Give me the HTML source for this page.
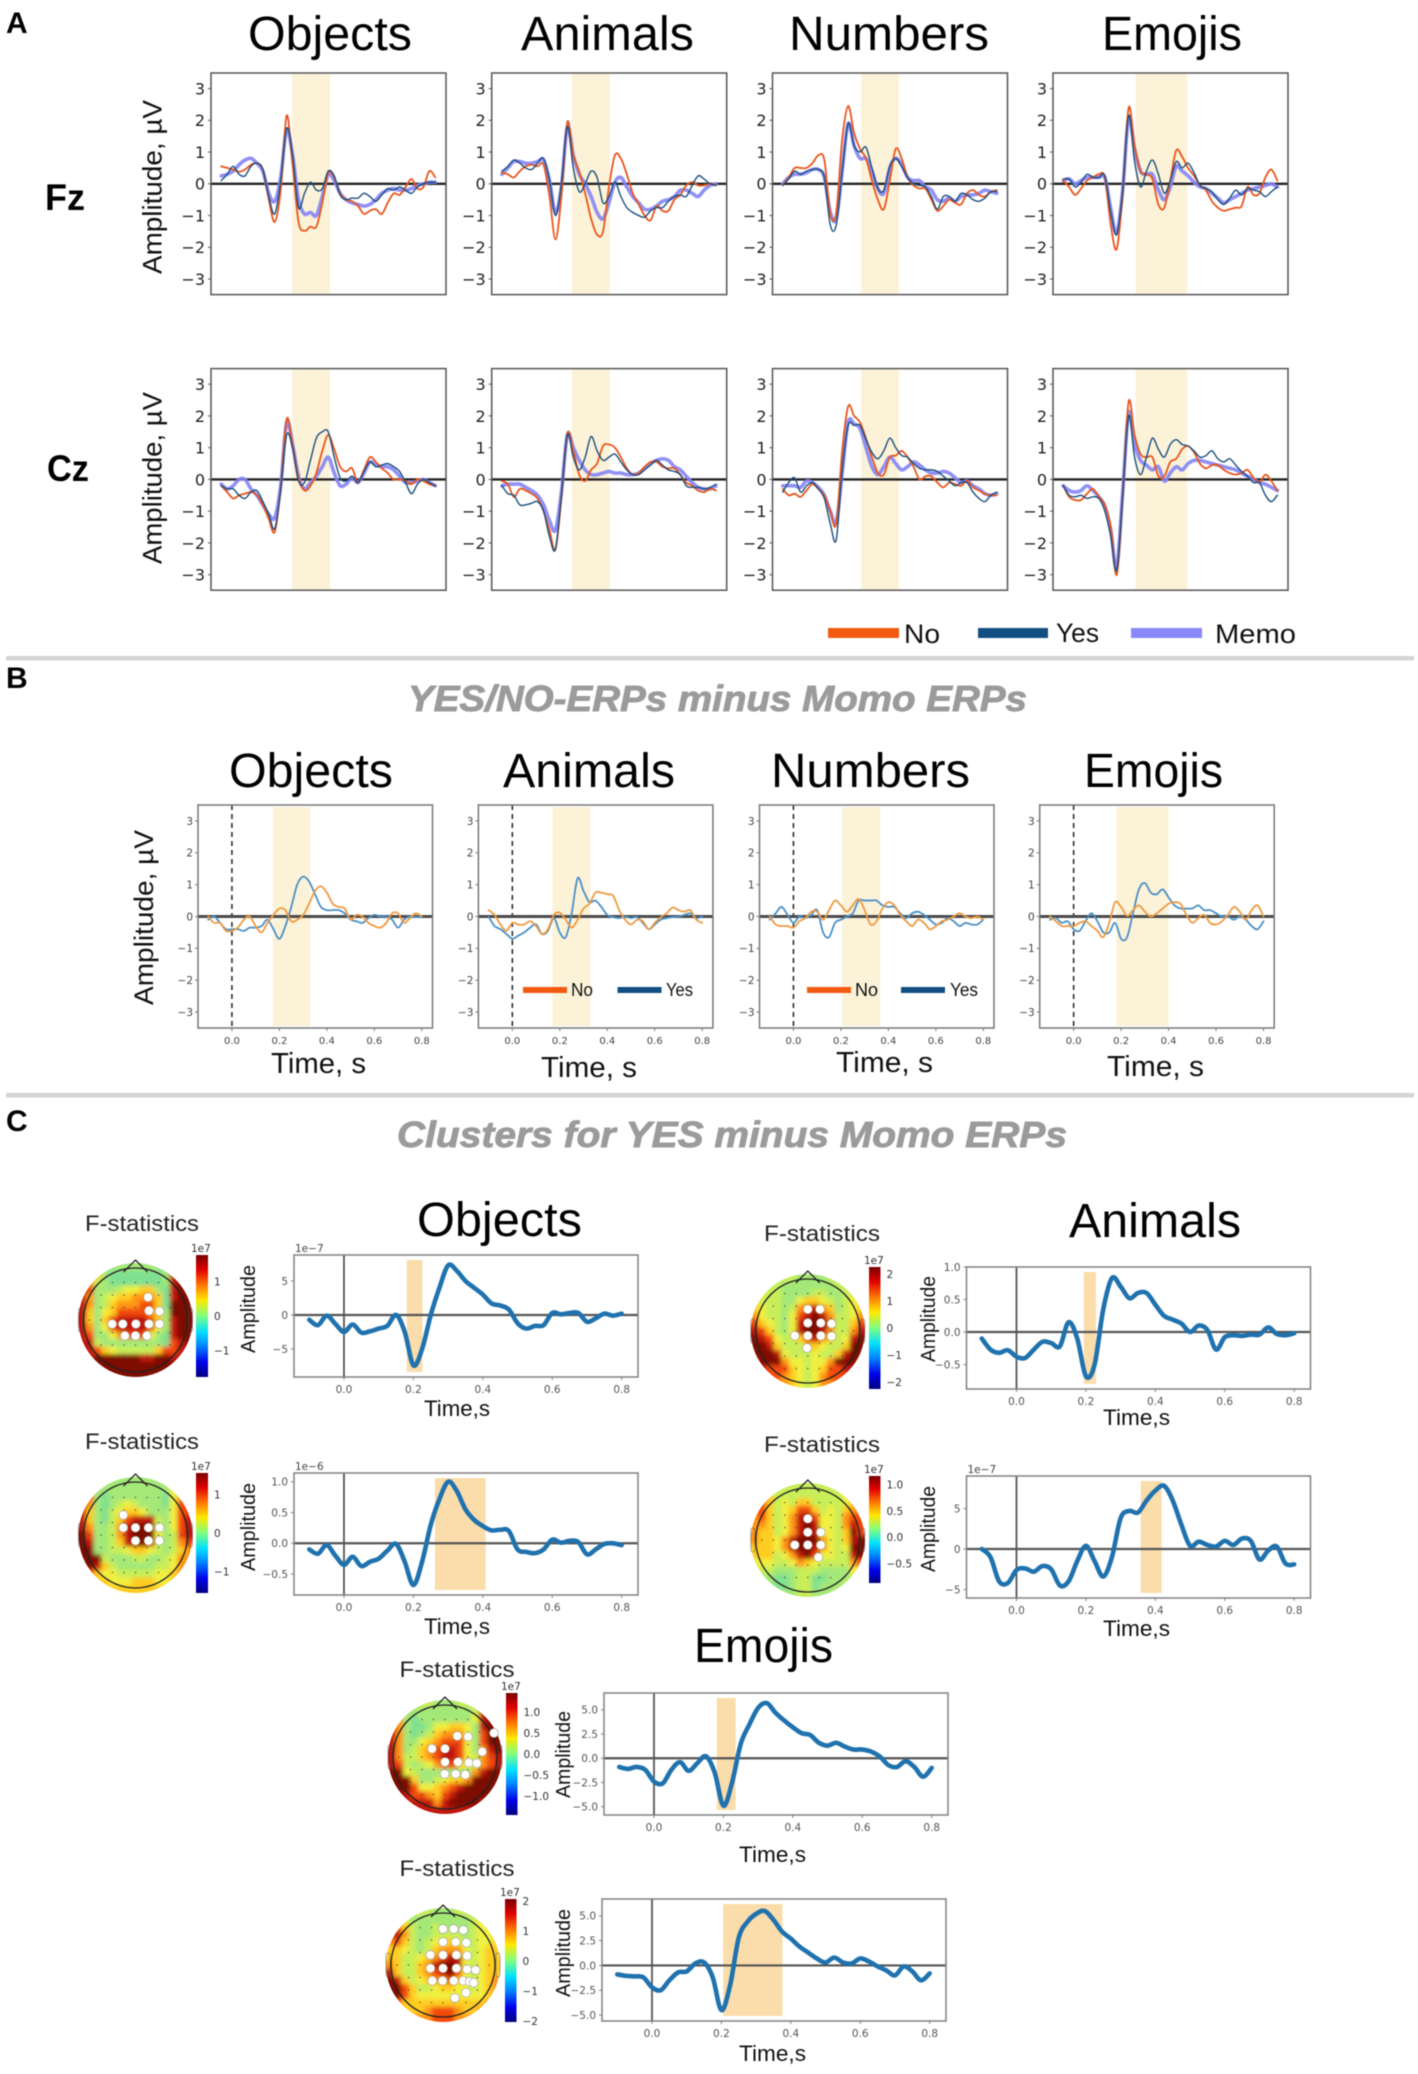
<!DOCTYPE html>
<html lang="en">
<head>
<meta charset="utf-8">
<title>ERP figure</title>
<style>
html,body{margin:0;padding:0;background:#fff;}
#figure{position:absolute;left:0;top:0;display:block;filter:blur(0.45px);}
text{font-family:"Liberation Sans",sans-serif;fill:#111;}
.panel-letter{font-weight:bold;font-size:30px;fill:#000;}
.channel{font-weight:bold;font-size:37px;fill:#000;}
.title{font-size:48px;fill:#000;}
.ytitle{font-size:27px;fill:#111;}
.xtitle{font-size:29px;fill:#111;}
.section{font-weight:bold;font-style:italic;font-size:36px;fill:#9b9b9b;stroke:#9b9b9b;stroke-width:.9px;}
.legend{font-size:27px;fill:#111;}
.legend-small{font-size:18px;fill:#111;}
.cx{font-size:22px;fill:#111;}
.camp{font-size:20px;fill:#111;}
.fstat{font-size:22px;fill:#222;}
.tick{font-family:"DejaVu Sans",sans-serif;}
</style>
</head>
<body>
<svg id="figure" xmlns="http://www.w3.org/2000/svg" width="1418" height="2074" viewBox="0 0 1418 2074">
<defs>
<filter id="topo-blur" x="-10%" y="-10%" width="120%" height="120%"><feGaussianBlur stdDeviation="2.2"/></filter>
<linearGradient id="jet" x1="0" y1="0" x2="0" y2="1">
<stop offset="0" stop-color="#7a0000"/><stop offset=".12" stop-color="#e00000"/><stop offset=".25" stop-color="#ff7a00"/><stop offset=".37" stop-color="#ffe800"/><stop offset=".5" stop-color="#80ff80"/><stop offset=".63" stop-color="#00e0ff"/><stop offset=".75" stop-color="#0080ff"/><stop offset=".88" stop-color="#0000e8"/><stop offset="1" stop-color="#000080"/>
</linearGradient>
</defs>

<rect x="6" y="656" width="1408" height="4.5" fill="#d4d4d4"/>
<rect x="6" y="1093" width="1408" height="4.5" fill="#d4d4d4"/>

<text class="panel-letter" x="6" y="33">A</text>
<text class="panel-letter" x="6" y="688">B</text>
<text class="panel-letter" x="6" y="1131">C</text>

<text class="title" x="248" y="50" textLength="164" lengthAdjust="spacingAndGlyphs">Objects</text>
<text class="title" x="521" y="50" textLength="173" lengthAdjust="spacingAndGlyphs">Animals</text>
<text class="title" x="789" y="50" textLength="200" lengthAdjust="spacingAndGlyphs">Numbers</text>
<text class="title" x="1102" y="50" textLength="140" lengthAdjust="spacingAndGlyphs">Emojis</text>

<text class="channel" x="45" y="210" textLength="40" lengthAdjust="spacingAndGlyphs">Fz</text>
<text class="channel" x="47" y="481" textLength="42" lengthAdjust="spacingAndGlyphs">Cz</text>

<text class="ytitle" transform="translate(161.5,274) rotate(-90)" textLength="174" lengthAdjust="spacingAndGlyphs">Amplitude, µV</text>
<text class="ytitle" transform="translate(161.5,564) rotate(-90)" textLength="172" lengthAdjust="spacingAndGlyphs">Amplitude, µV</text>

<rect x="828" y="628" width="71" height="10" fill="#f25a12"/>
<text class="legend" x="904" y="643" textLength="36" lengthAdjust="spacingAndGlyphs">No</text>
<rect x="978" y="628" width="70" height="10" fill="#124e82"/>
<text class="legend" x="1056" y="642" textLength="43" lengthAdjust="spacingAndGlyphs">Yes</text>
<rect x="1131" y="628" width="71" height="10" fill="#8888fa"/>
<text class="legend" x="1215" y="643" textLength="81" lengthAdjust="spacingAndGlyphs">Memo</text>

<text class="section" x="408" y="711" textLength="619" lengthAdjust="spacingAndGlyphs">YES/NO-ERPs minus Momo ERPs</text>
<text class="title" x="229" y="787" textLength="164" lengthAdjust="spacingAndGlyphs">Objects</text>
<text class="title" x="503" y="787" textLength="172" lengthAdjust="spacingAndGlyphs">Animals</text>
<text class="title" x="771" y="787" textLength="199" lengthAdjust="spacingAndGlyphs">Numbers</text>
<text class="title" x="1084" y="787" textLength="139" lengthAdjust="spacingAndGlyphs">Emojis</text>
<text class="ytitle" transform="translate(153,1005) rotate(-90)" textLength="175" lengthAdjust="spacingAndGlyphs">Amplitude, µV</text>
<text class="xtitle" x="271" y="1073" textLength="95" lengthAdjust="spacingAndGlyphs">Time, s</text>
<text class="xtitle" x="541" y="1077" textLength="96" lengthAdjust="spacingAndGlyphs">Time, s</text>
<text class="xtitle" x="836" y="1072" textLength="97" lengthAdjust="spacingAndGlyphs">Time, s</text>
<text class="xtitle" x="1107" y="1076" textLength="97" lengthAdjust="spacingAndGlyphs">Time, s</text>

<text class="section" x="397" y="1147" textLength="670" lengthAdjust="spacingAndGlyphs">Clusters for YES minus Momo ERPs</text>
<text class="title" x="417" y="1236" textLength="165" lengthAdjust="spacingAndGlyphs">Objects</text>
<text class="title" x="1069" y="1237" textLength="172" lengthAdjust="spacingAndGlyphs">Animals</text>
<text class="title" x="694" y="1662" textLength="139" lengthAdjust="spacingAndGlyphs">Emojis</text>

<text class="fstat" x="85" y="1231" textLength="114" lengthAdjust="spacingAndGlyphs">F-statistics</text>
<text class="fstat" x="85" y="1449" textLength="114" lengthAdjust="spacingAndGlyphs">F-statistics</text>
<text class="fstat" x="764" y="1241" textLength="116" lengthAdjust="spacingAndGlyphs">F-statistics</text>
<text class="fstat" x="764" y="1452" textLength="116" lengthAdjust="spacingAndGlyphs">F-statistics</text>
<text class="fstat" x="399.5" y="1677" textLength="115" lengthAdjust="spacingAndGlyphs">F-statistics</text>
<text class="fstat" x="399.5" y="1876" textLength="115" lengthAdjust="spacingAndGlyphs">F-statistics</text>

<text class="cx" x="424" y="1416" textLength="66" lengthAdjust="spacingAndGlyphs">Time,s</text>
<text class="cx" x="424" y="1634" textLength="66" lengthAdjust="spacingAndGlyphs">Time,s</text>
<text class="cx" x="1103" y="1425" textLength="67" lengthAdjust="spacingAndGlyphs">Time,s</text>
<text class="cx" x="1103" y="1636" textLength="67" lengthAdjust="spacingAndGlyphs">Time,s</text>
<text class="cx" x="739" y="1862" textLength="67" lengthAdjust="spacingAndGlyphs">Time,s</text>
<text class="cx" x="739" y="2061" textLength="67" lengthAdjust="spacingAndGlyphs">Time,s</text>

<text class="camp" transform="translate(255,1353) rotate(-90)" textLength="88" lengthAdjust="spacingAndGlyphs">Amplitude</text>
<text class="camp" transform="translate(255,1571) rotate(-90)" textLength="88" lengthAdjust="spacingAndGlyphs">Amplitude</text>
<text class="camp" transform="translate(935,1362) rotate(-90)" textLength="86" lengthAdjust="spacingAndGlyphs">Amplitude</text>
<text class="camp" transform="translate(935,1572) rotate(-90)" textLength="86" lengthAdjust="spacingAndGlyphs">Amplitude</text>
<text class="camp" transform="translate(570,1798) rotate(-90)" textLength="87" lengthAdjust="spacingAndGlyphs">Amplitude</text>
<text class="camp" transform="translate(570,1997) rotate(-90)" textLength="88" lengthAdjust="spacingAndGlyphs">Amplitude</text>

<g id="plots"></g>

<rect x="523" y="987" width="44" height="6" fill="#f25a12"/>
<text class="legend-small" x="571" y="996" textLength="22" lengthAdjust="spacingAndGlyphs">No</text>
<rect x="617.5" y="987" width="44" height="6" fill="#124e82"/>
<text class="legend-small" x="666" y="996" textLength="27" lengthAdjust="spacingAndGlyphs">Yes</text>
<rect x="807" y="987" width="44" height="6" fill="#f25a12"/>
<text class="legend-small" x="855" y="996" textLength="23" lengthAdjust="spacingAndGlyphs">No</text>
<rect x="901" y="987" width="44" height="6" fill="#124e82"/>
<text class="legend-small" x="950" y="996" textLength="28" lengthAdjust="spacingAndGlyphs">Yes</text>
</svg>

<script>
// ---------- shared sample times (seconds) ----------
const timePoints = [-0.1,-0.075,-0.05,-0.025,0,0.025,0.05,0.075,0.1,0.125,0.15,0.175,0.2,0.225,0.25,0.275,0.3,0.325,0.35,0.375,0.4,0.425,0.45,0.475,0.5,0.525,0.55,0.575,0.6,0.625,0.65,0.675,0.7,0.725,0.75,0.775,0.8];

// ---------- tick values ----------
const erpYTicks = [3,2,1,0,-1,-2,-3];
const timeTicks = [0,0.2,0.4,0.6,0.8];
const clusterTicks5 = [-5,0,5];
const clusterTicks1 = [-0.5,0,0.5,1];
const clusterTicks25 = [-5,-2.5,0,2.5,5];
const cbarTicksObjectsEarly = [1,0,-1];
const cbarTicksObjectsLate = [1,0,-1];
const cbarTicksAnimalsEarly = [2,1,0,-1,-2];
const cbarTicksAnimalsLate = [1,0.5,0,-0.5];
const cbarTicksEmojisEarly = [1,0.5,0,-0.5,-1];
const cbarTicksEmojisLate = [2,1,0,-1,-2];

// ---------- Panel A, Fz ----------
const objectsFzNo = [.55,.5,.45,.38,.45,.6,.65,.45,-.5,-1.2,-.2,2.15,.6,-1.2,-1.48,-1.35,-1.35,-.6,.35,.2,-.3,-.5,-.55,-.7,-.95,-.85,-.8,-.95,-.6,-.3,-.35,-.1,.15,-.15,-.1,.4,.2];
const objectsFzYes = [.1,.3,.55,.3,.25,.55,.65,.45,-.4,-.95,.1,1.75,.9,-.75,-.3,.05,-.2,-.15,.4,.25,-.35,-.5,-.45,-.45,-.3,-.4,-.55,-.35,-.15,-.2,-.1,-.2,-.3,-.1,0,.05,.05];
const objectsFzMemo = [.25,.3,.4,.6,.75,.8,.65,.4,-.3,-.55,.2,1.7,.9,-.5,-.95,-.9,-1.0,-.4,.3,.1,-.3,-.5,-.6,-.65,-.7,-.65,-.5,-.3,-.2,-.15,-.2,-.2,-.15,-.05,0,.05,.05];
const animalsFzNo = [.35,.3,.2,.4,.55,.6,.55,.6,-.4,-1.75,-.4,1.95,.9,.4,-.3,-1.1,-1.6,-1.5,-.1,.9,.8,.3,-.3,-.65,-1.0,-1.15,-.7,-.85,-.85,-.5,-.35,-.05,.05,-.05,-.05,0,-.05];
const animalsFzYes = [.4,.55,.75,.65,.5,.45,.65,.8,.1,-1.0,0,1.8,.5,-.25,0,.4,.2,-.6,-.4,.05,-.4,-.75,-.9,-1.0,-1.05,-.85,-.75,-.75,-.55,-.4,-.35,-.4,-.05,.25,.15,0,-.05];
const animalsFzMemo = [.3,.5,.7,.7,.65,.65,.7,.75,.1,-.9,-.1,1.8,.9,.3,0,-.4,-.9,-1.1,-.6,.05,.2,-.1,-.4,-.6,-.8,-.8,-.7,-.55,-.5,-.4,-.2,-.2,-.3,-.4,-.2,-.05,0];
const numbersFzNo = [-.05,.2,.5,.5,.5,.65,.9,.75,-.95,-.9,1.4,2.45,1.6,1.1,.8,.1,-.5,-.8,.1,1.1,.8,.2,-.05,-.15,-.15,-.5,-.85,-.7,-.5,-.6,-.65,-.3,-.2,-.35,-.4,-.25,-.2];
const numbersFzYes = [-.05,.15,.4,.3,.4,.45,.45,.2,-1.3,-1.3,.4,1.9,1.2,1.0,1.15,.5,-.15,-.2,.55,.8,.55,.2,0,-.05,-.1,-.4,-.8,-.4,-.4,-.55,-.3,-.35,-.5,-.55,-.45,-.25,-.25];
const numbersFzMemo = [0,.2,.3,.3,.35,.45,.45,.2,-.9,-1.1,.4,1.9,1.2,.8,.8,.4,-.15,-.3,.5,.8,.6,.2,.1,.1,-.1,-.2,-.5,-.55,-.45,-.55,-.4,-.35,-.35,-.3,-.2,-.25,-.3];
const emojisFzNo = [.1,-.1,-.35,-.15,.1,.2,.3,.2,-1.3,-2.05,-.3,2.4,1.2,.4,.3,.15,-.65,-.75,.1,1.05,.85,.5,.25,-.05,-.2,-.55,-.75,-.85,-.8,-.75,-.7,-.1,-.35,-.3,.2,.45,.1];
const emojisFzYes = [.15,.15,-.1,.05,.3,.2,.2,.25,-.9,-1.6,-.2,2.15,.7,-.1,.4,.75,.3,-.3,.1,.7,.5,.65,.35,-.05,-.15,-.25,-.5,-.65,-.45,-.2,-.35,-.15,-.2,-.25,-.4,-.25,-.1];
const emojisFzMemo = [.1,.15,0,.1,.2,.2,.2,.2,-.8,-1.55,-.2,2.1,1.1,.4,.3,.3,-.2,-.5,-.1,.55,.4,.25,.05,-.1,-.15,-.3,-.45,-.6,-.5,-.4,-.3,-.2,-.15,-.1,-.05,0,-.1];

// ---------- Panel A, Cz ----------
const objectsCzNo = [-.2,-.4,-.6,-.5,-.45,-.4,-.5,-.8,-1.25,-1.65,-.3,1.9,1.1,.05,-.35,-.2,.2,.9,1.4,.95,.4,.25,.35,-.1,.3,.7,.55,.35,.2,0,0,-.05,-.15,0,-.05,-.15,-.2];
const objectsCzYes = [-.2,-.3,-.3,-.5,-.6,-.4,-.35,-.7,-1.1,-1.55,-.3,1.4,1.0,-.05,-.1,.6,1.3,1.5,1.5,.7,.05,-.05,.1,-.1,.25,.55,.4,.45,.5,.4,.25,-.1,-.45,-.15,0,-.1,-.2];
const objectsCzMemo = [-.15,-.3,-.2,0,0,-.3,-.5,-.8,-1.1,-1.2,-.2,1.8,1.1,.1,-.3,-.1,.1,.4,.7,.2,-.2,-.15,.05,-.1,.2,.55,.45,.4,.4,.3,.1,-.1,-.1,-.05,0,-.1,-.2];
const animalsCzNo = [-.05,-.15,-.55,-.3,-.35,-.45,-.6,-1.0,-1.6,-2.2,-.6,1.45,.9,.15,-.05,.3,.5,1.05,1.1,1.0,.7,.35,.15,.2,.4,.55,.55,.4,.35,.35,.15,-.1,-.2,-.35,-.4,-.3,-.35];
const animalsCzYes = [-.2,-.45,-.5,-.8,-.8,-.75,-.7,-1.0,-1.8,-2.2,-.5,1.4,.7,.3,.7,1.35,.9,.6,.7,.8,.55,.3,.15,.15,.3,.45,.6,.45,.3,.25,.15,-.2,-.25,-.25,-.3,-.25,-.15];
const animalsCzMemo = [-.2,-.15,-.15,-.15,-.25,-.35,-.5,-.8,-1.3,-1.6,-.4,1.4,1.0,.6,.3,.15,.15,.2,.25,.2,.2,.15,.15,.2,.35,.5,.6,.65,.6,.4,.3,.1,-.1,-.25,-.3,-.3,-.2];
const numbersCzNo = [-.3,-.5,-.45,-.55,-.35,-.15,-.3,-.5,-1.0,-1.4,.9,2.3,2.0,1.8,1.3,.7,.2,.15,.7,.75,.9,.7,.4,0,.1,.1,-.1,-.25,-.1,-.15,-.2,-.05,-.25,-.35,-.45,-.5,-.5];
const numbersCzYes = [-.4,-.1,.05,-.4,-.2,-.1,-.3,-.6,-1.4,-1.9,.3,1.7,1.7,1.7,1.25,.85,.65,.9,1.3,1.0,.75,.7,.5,.35,.3,.3,.25,.1,-.05,-.2,-.1,-.1,-.4,-.6,-.7,-.5,-.4];
const numbersCzMemo = [-.2,-.2,-.2,-.25,-.05,-.1,-.25,-.5,-1.0,-1.35,.2,1.8,1.75,1.6,1.0,.4,.15,.4,.7,.5,.3,.4,.55,.45,.3,.2,.2,.25,.2,.05,-.1,-.05,-.2,-.3,-.45,-.5,-.45];
const emojisCzNo = [-.2,-.55,-.65,-.65,-.45,-.3,-.55,-.8,-1.5,-3.0,-.5,2.45,1.4,.8,.7,.7,.1,.1,.55,.65,.95,1.05,.85,.5,.35,.45,.45,.3,.2,.15,.2,.3,.05,-.1,.15,-.05,-.35];
const emojisCzYes = [-.2,-.5,-.55,-.5,-.6,-.55,-.6,-1.0,-1.8,-2.85,-.5,2.0,.7,.15,.7,1.3,.95,.7,1.1,1.25,1.1,1.05,.9,.7,.75,.9,.65,.55,.65,.45,.25,.1,-.1,-.1,-.5,-.7,-.5];
const emojisCzMemo = [-.2,-.35,-.4,-.35,-.2,-.35,-.55,-.85,-1.6,-2.8,-.4,2.1,1.1,.6,.45,.3,.4,-.05,.2,.4,.3,.5,.6,.6,.55,.5,.45,.4,.35,.3,.2,.1,0,-.1,-.15,-.25,-.35];

// ---------- Panel B ----------
const diffObjectsNo = [0,-.2,-.2,-.45,-.45,-.35,-.1,0,-.3,-.5,-.2,.05,.25,.2,-.15,-.1,.05,.4,.8,.95,.75,.4,.3,.25,-.1,.05,0,-.2,-.3,-.35,-.2,.1,.1,-.2,-.05,.1,0];
const diffObjectsYes = [-.1,0,-.2,-.4,-.4,-.4,-.45,-.35,-.35,-.3,-.1,-.4,-.7,-.3,.3,1,1.25,1.1,.7,.3,.2,.2,.2,.1,-.1,-.15,-.2,-.05,.05,0,0,-.1,-.35,-.1,0,-.02,0];
const diffAnimalsNo = [.2,.05,-.25,-.45,-.2,-.25,-.25,-.15,-.3,-.55,-.4,.05,.12,-.1,-.35,-.1,.25,.4,.75,.75,.7,.65,.2,-.1,-.25,-.1,-.15,-.4,-.2,-.02,.1,.28,.2,.15,.2,-.1,-.2];
const diffAnimalsYes = [0,-.3,-.4,-.55,-.7,-.6,-.5,-.35,-.25,-.55,-.45,-.05,-.5,-.65,.1,1.2,.8,.45,.5,.3,.05,-.02,-.05,0,-.05,-.02,-.2,-.4,-.25,-.1,-.05,-.02,0,.05,.1,-.05,0];
const diffNumbersNo = [0,-.25,-.3,-.3,-.35,-.15,-.05,.15,.15,-.1,.2,.5,.35,.15,.35,.55,.2,-.25,-.15,.25,.45,.35,.05,-.15,-.3,-.1,-.2,-.4,-.3,-.15,-.1,0,.1,0,-.05,0,-.1];
const diffNumbersYes = [-.1,.1,.3,.05,-.2,0,-.05,.05,.2,-.5,-.65,-.2,-.1,0,.1,.5,.5,.5,.5,.35,.3,.3,.1,-.05,.1,.15,.05,-.1,-.25,-.2,-.05,-.15,-.3,-.2,-.25,-.25,-.1];
const diffEmojisNo = [0,-.15,-.3,-.3,-.3,-.2,-.15,-.3,-.45,-.65,-.2,.45,.3,.02,.2,.35,.15,0,.1,.25,.4,.45,.4,.05,-.2,-.05,.05,-.2,-.25,-.15,.05,.3,.15,-.1,.2,.35,0];
const diffEmojisYes = [-.1,-.05,-.2,-.15,-.4,-.45,-.15,.1,-.15,-.5,-.5,-.2,-.7,-.65,.1,.85,1.05,.75,.7,.85,.6,.35,.25,.25,.25,.35,.2,.2,.1,0,0,-.1,0,-.1,-.3,-.4,-.15];

// ---------- Panel C cluster waveforms ----------
const clusterObjectsEarly = [-.7,-1.5,-.1,-1.3,-2.5,-1.4,-2.6,-2.4,-2.0,-1.6,0,-2.5,-7.4,-5,0,4,7.3,6.5,5,4,3,1.7,1.4,.8,-1.2,-2,-1.6,-1.5,.3,.1,.3,.3,-1,-.5,.2,-.1,.2];
const clusterObjectsLate = [-.1,-.17,-.03,-.2,-.35,-.22,-.37,-.3,-.25,-.12,-.01,-.3,-.68,-.3,.3,.72,1.0,.85,.55,.38,.28,.21,.22,.2,-.1,-.14,-.16,-.1,.06,.01,.04,.02,-.18,-.1,-.01,0,-.03];
const clusterAnimalsEarly = [-.1,-.27,-.32,-.28,-.38,-.4,-.27,-.15,-.17,-.22,.15,-.1,-.68,-.5,.35,.83,.7,.52,.6,.6,.42,.25,.19,.13,0,.1,.03,-.27,-.08,-.05,-.06,-.04,-.04,.07,-.03,-.05,-.02];
const clusterAnimalsLate = [0,-1,-4,-4.2,-2.6,-2.4,-2.8,-2.1,-2.5,-4.5,-4,-1.5,.4,-1.5,-3.4,-1,3.8,4.7,4.5,6,7.2,7.8,6,3,.4,.9,.5,.3,1,.5,1.3,1,-1.3,-.2,.3,-1.8,-1.9];
const clusterEmojisEarly = [-.9,-1.1,-.9,-1.2,-2.4,-2.6,-1.2,-.4,-1.3,-.5,.2,-1.5,-4.9,-2.5,1.5,3.5,5.2,5.7,4.7,3.9,3.2,2.6,2.4,1.6,1.3,1.6,1.2,.9,.9,.7,.2,-.7,-.9,-.3,-.9,-1.9,-1];
const clusterEmojisLate = [-.9,-1.05,-1.1,-1.2,-2.2,-2.5,-1.5,-.7,-.6,.2,.3,-1.2,-4.5,-2,2.8,4.4,5.2,5.5,4.6,3.4,2.7,1.9,1.3,.7,.3,.8,.3,.2,.7,.4,-.1,-.5,-1,-.1,-.6,-1.5,-.8];

// ---------- Topomap value grids (digit = colour level 0..9) ----------
const topoObjectsEarly = ["555222222222777","855211111112899","863211111112899","872223445521899","862345566651899","862356667751999","852457777652999","852578888752899","862478888742899","872246777421899","883222222221789","887543333357788","889999998899888","899999999999988","999999999999999"];
const topoObjectsLate = ["444222222222444","762222222222445","872122222221466","862123432221477","852134554222477","852135788832478","862236899942478","972236899942378","982235899832367","992233455432356","999322233223466","998532222233466","875443333344565","665544455544556","555555555555555"];
const topoAnimalsEarly = ["333333222233333","433322222223334","443322223322344","533322455432345","543323678652345","643324789863346","754324899973357","875324899863368","987433578653489","998533355433599","999843334335899","899964434469998","887775434577888","777765434677777","667665434667766"];
const topoAnimalsLate = ["444333333333445","665333333333455","775343553333455","775345775343566","675346897443677","665346898443687","655346898443597","655468999643589","555468998643499","555346897443389","444334654333367","433222333222245","322112331122234","322112331222334","333222332223333"];
const topoEmojisEarly = ["666333222333777","872222222223899","862122222224899","862112445542899","862123566642799","862245677742799","862356788742689","863356788743678","873234677543678","994322222226899","999522345569999","999744567899999","998776578999998","788888689999888","778888888888888"];
const topoEmojisLate = ["444333222333444","664222222223444","775322322223445","786322333323445","675323445433445","554323566643455","553345678843455","653356899843455","853356789743455","985345667543456","997533455443456","997544444444456","875555555555566","665556777655666","666666777666666"];
const topoLevels = ["#55d8a8","#7fe090","#a4e878","#c8ee58","#f0f040","#ffcc22","#ff9412","#f24a10","#c01408","#7c0a04"];

// ---------- Significant electrodes, offsets from head centre ----------
const sensorsObjectsEarly = [[12.6,-22.7],[13.5,-9.3],[24,-8.7],[-23.3,4],[-12.7,4],[.4,4],[13.5,4],[24,4],[-10.6,15.7],[0,15.7],[11.4,15.7]];
const sensorsObjectsLate = [[-12.2,-20],[-12.2,-7.3],[0,-7.3],[13,-7.3],[24,-7.3],[0,5.7],[13,5.7],[24,5.7]];
const sensorsAnimalsEarly = [[0,-21.7],[12.2,-21.7],[0,-8],[13,-8],[23.7,-7.3],[-13,4.7],[0,4.7],[13,4.7],[23.7,5.3],[-.8,17]];
const sensorsAnimalsLate = [[0,-21.3],[0,-7.7],[13,-7.7],[-13,5],[0,5],[13,5],[10.6,17.3]];
const sensorsEmojisEarly = [[12.3,-21],[23,-20.3],[49,-24],[-13,-8.3],[0,-8.3],[37.2,-5.3],[0,5],[13,5],[23.8,5.7],[31.8,6.3],[-.4,17],[10.7,17],[20.3,17.7]];
const sensorsEmojisLate = [[0,-36],[10.7,-36],[20.3,-35],[0,-23],[12.6,-23],[23.4,-22.3],[-12.6,-10],[0,-10],[13.4,-10],[24.1,-9.3],[-12.6,3.3],[0,3.3],[13.4,3.3],[24.1,4.3],[32.6,5],[-10.7,15.7],[-.4,15.7],[10.7,15.7],[20.3,15.7],[26.8,16.7],[30.7,17.7],[23,27.7],[11.9,33]];

// ---------- Drawing ----------
const svgNS = document.getElementById('figure').namespaceURI;
const layer = document.getElementById('plots');

function make(tag, attrs, parent) {
  const el = document.createElementNS(svgNS, tag);
  for (const k in attrs) el.setAttribute(k, attrs[k]);
  (parent || layer).appendChild(el);
  return el;
}
function smoothPath(xs, ys) {
  let d = 'M' + xs[0].toFixed(2) + ' ' + ys[0].toFixed(2);
  for (let i = 0; i < xs.length - 1; i++) {
    const a = Math.max(i - 1, 0), b = Math.min(i + 2, xs.length - 1);
    const c1x = xs[i] + (xs[i + 1] - xs[a]) / 6, c1y = ys[i] + (ys[i + 1] - ys[a]) / 6;
    const c2x = xs[i + 1] - (xs[b] - xs[i]) / 6, c2y = ys[i + 1] - (ys[b] - ys[i]) / 6;
    d += 'C' + c1x.toFixed(2) + ' ' + c1y.toFixed(2) + ' ' + c2x.toFixed(2) + ' ' + c2y.toFixed(2) + ' ' + xs[i + 1].toFixed(2) + ' ' + ys[i + 1].toFixed(2);
  }
  return d;
}
function fmt(v, decimals) {
  const s = Math.abs(v).toFixed(decimals);
  return (v < 0 ? '\u2212' : '') + s;
}
function drawPanel(c) {
  const g = make('g', {});
  
  
  const xAt = t => c.x + (t - c.xlim[0]) / (c.xlim[1] - c.xlim[0]) * c.w;
  const yAt = v => c.y + (c.ylim[1] - v) / (c.ylim[1] - c.ylim[0]) * c.h;

  const shade = make('rect', {x: xAt(c.shade[0]), y: c.y + c.shadeInset, width: xAt(c.shade[1]) - xAt(c.shade[0]), height: c.h - 2 * c.shadeInset, fill: c.shadeColor}, g);
  
  

  if (c.vline) {
    const v = make('line', {x1: xAt(0), x2: xAt(0), y1: c.y, y2: c.y + c.h, stroke: c.vline.color, 'stroke-width': c.vline.width, 'stroke-dasharray': c.vline.dash || 'none'}, g);
    
    
  }
  const z = make('line', {x1: c.x, x2: c.x + c.w, y1: yAt(0), y2: yAt(0), stroke: c.zero.color, 'stroke-width': c.zero.width}, g);
  
  

  c.series.forEach(s => {
    const p = make('path', {d: smoothPath(timePoints.map(xAt), s.values.map(yAt)), fill: 'none', stroke: s.color, 'stroke-width': s.width, 'stroke-linejoin': 'round', 'stroke-linecap': 'round', opacity: s.opacity || 1}, g);
    
    
  });

  const f = make('rect', {x: c.x, y: c.y, width: c.w, height: c.h, fill: 'none', stroke: c.frame, 'stroke-width': 1.5}, g);
  
  

  c.yTicks.forEach(v => {
    const m = make('line', {x1: c.x - 3, x2: c.x, y1: yAt(v), y2: yAt(v), stroke: c.frame, 'stroke-width': 1}, g);
    
    
    const t = make('text', {x: c.x - c.yLabelGap, y: yAt(v) + c.yFont * 0.37, 'text-anchor': 'end', 'font-size': c.yFont, class: 'tick', style: 'fill:' + c.tickColor}, g);
    t.textContent = fmt(v, c.yDecimals);
    
    
  });
  (c.xTicks || []).forEach(v => {
    const m = make('line', {x1: xAt(v), x2: xAt(v), y1: c.y + c.h, y2: c.y + c.h + 3, stroke: c.frame, 'stroke-width': 1}, g);
    
    
    const t = make('text', {x: xAt(v), y: c.y + c.h + c.xLabelGap, 'text-anchor': 'middle', 'font-size': c.xFont, class: 'tick', style: 'fill:' + c.tickColor}, g);
    t.textContent = fmt(v, 1);
    
    
  });
  if (c.exponent) {
    const t = make('text', {x: c.x + 1, y: c.y - 3, 'font-size': 10.5, class: 'tick', style: 'fill:#444'}, g);
    t.textContent = c.exponent;
    
    
  }
}
function drawTopomap(c) {
  const g = make('g', {});
  
  
  const clipId = c.name + '-clip';
  const clip = make('clipPath', {id: clipId}, g);
  make('ellipse', {cx: c.cx, cy: c.cy, rx: c.rx, ry: c.ry}, clip);
  const clipped = make('g', {'clip-path': 'url(#' + clipId + ')'}, g);
  const blurred = make('g', {filter: 'url(#topo-blur)'}, clipped);
  const cols = c.grid[0].length, rows = c.grid.length;
  const cw = 2 * c.rx / cols, ch = 2 * c.ry / rows, pad = 14;
  c.grid.forEach((row, r) => {
    for (let q = 0; q < cols; q++) {
      const x0 = c.cx - c.rx + q * cw - (q === 0 ? pad : 0);
      const y0 = c.cy - c.ry + r * ch - (r === 0 ? pad : 0);
      const cellW = cw + .6 + (q === 0 || q === cols - 1 ? pad : 0);
      const cellH = ch + .6 + (r === 0 || r === rows - 1 ? pad : 0);
      const cell = make('rect', {x: x0, y: y0, width: cellW, height: cellH, fill: topoLevels[+row[q]]}, blurred);
      
      
    }
  });
  // head outline, nose and ears
  const head = make('ellipse', {cx: c.cx, cy: c.cy, rx: c.rx - 5, ry: c.ry - 5, fill: 'none', stroke: '#222', 'stroke-width': 1.3}, g);
  
  
  const nose = make('path', {d: 'M' + (c.cx - 12) + ' ' + (c.cy - c.ry + 9) + 'L' + c.cx + ' ' + (c.cy - c.ry - 3) + 'L' + (c.cx + 12) + ' ' + (c.cy - c.ry + 9), fill: 'none', stroke: '#222', 'stroke-width': 1.3}, g);
  
  
  [-1, 1].forEach(side => {
    const ear = make('rect', {x: c.cx + side * (c.rx - 2) - 2, y: c.cy - 12, width: 4, height: 24, rx: 2, fill: 'none', stroke: '#444', 'stroke-width': .8, opacity: .55}, g);
    
    
  });
  for (let u = -4; u <= 4; u++) for (let v = -4; v <= 4; v++) {
    const dx = u * 11.5, dy = v * 12.5;
    if (dx * dx + dy * dy > 46 * 46) continue;
    const s = make('circle', {cx: c.cx + dx, cy: c.cy + dy, r: .8, fill: '#333', opacity: .7}, g);
    
    
  }
  c.sensors.forEach(p => {
    const s = make('circle', {cx: c.cx + p[0], cy: c.cy + p[1], r: 4.4, fill: '#fff', stroke: '#aaa', 'stroke-width': .7}, g);
    
    
  });
  // colour bar
  const bar = make('rect', {x: c.barX, y: c.barY, width: c.barW, height: c.barH, fill: 'url(#jet)'}, g);
  
  
  const barAt = v => c.barY + (c.barMax - v) / (c.barMax - c.barMin) * c.barH;
  c.barTicks.forEach(v => {
    const t = make('text', {x: c.barX + c.barW + 6, y: barAt(v) + 4, 'font-size': 10.5, class: 'tick', style: 'fill:#333'}, g);
    t.textContent = fmt(v, c.barDecimals);
    
    
  });
  const e = make('text', {x: c.barX - 5, y: c.barY - 3, 'font-size': 10.5, class: 'tick', style: 'fill:#333'}, g);
  e.textContent = '1e7';
  
  
}

function threeSeries(no, yes, memo) {
  return [
    {label: 'memo', values: memo, color: '#8484f6', width: 3.6, opacity: .9},
    {label: 'no', values: no, color: '#e8561c', width: 1.8},
    {label: 'yes', values: yes, color: '#1b4f7e', width: 1.4}
  ];
}
function twoSeries(no, yes) {
  return [
    {label: 'yes', values: yes, color: '#4a90c6', width: 1.8},
    {label: 'no', values: no, color: '#ee9a42', width: 1.8}
  ];
}
function panelA(name, x, y, shade, series) {
  drawPanel({name, x, y, w: 235, h: 221.6, xlim: [-.143, .845], ylim: [-3.49, 3.49], shade, shadeInset: 1, shadeColor: '#fcf2d8',
    zero: {color: '#222', width: 2.4}, series, frame: '#555', yTicks: erpYTicks, yDecimals: 0, yFont: 16, yLabelGap: 6, tickColor: '#222'});
}
function panelB(name, x, shade, series) {
  drawPanel({name, x, y: 805, w: 234.5, h: 223, xlim: [-.143, .845], ylim: [-3.5, 3.5], shade, shadeInset: 2, shadeColor: '#fcf2d8',
    vline: {color: '#222', width: 1.5, dash: '5 4'}, zero: {color: '#4a4a4a', width: 3}, series, frame: '#777',
    yTicks: erpYTicks, yDecimals: 0, yFont: 10.5, yLabelGap: 5, tickColor: '#444', xTicks: timeTicks, xFont: 10, xLabelGap: 16});
}
function panelC(name, x, y, ylim, shade, values, yTicks, yDecimals, exponent) {
  drawPanel({name, x, y, w: 344, h: 122, xlim: [-.144, .847], ylim, shade, shadeInset: 5, shadeColor: '#fbdcab',
    vline: {color: '#555', width: 1.8}, zero: {color: '#555', width: 2.2},
    series: [{label: 'cluster', values, color: '#1f72ae', width: 4.6}],
    frame: '#808080', yTicks, yDecimals, yFont: 10.5, yLabelGap: 6, tickColor: '#555', xTicks: timeTicks, xFont: 10.5, xLabelGap: 16, exponent});
}

panelA('a-fz-objects', 211, 73, [.198, .357], threeSeries(objectsFzNo, objectsFzYes, objectsFzMemo));
panelA('a-fz-animals', 491.7, 73, [.194, .354], threeSeries(animalsFzNo, animalsFzYes, animalsFzMemo));
panelA('a-fz-numbers', 772.5, 73, [.23, .389], threeSeries(numbersFzNo, numbersFzYes, numbersFzMemo));
panelA('a-fz-emojis', 1053, 73, [.205, .422], threeSeries(emojisFzNo, emojisFzYes, emojisFzMemo));
panelA('a-cz-objects', 211, 368.6, [.198, .357], threeSeries(objectsCzNo, objectsCzYes, objectsCzMemo));
panelA('a-cz-animals', 491.7, 368.6, [.194, .354], threeSeries(animalsCzNo, animalsCzYes, animalsCzMemo));
panelA('a-cz-numbers', 772.5, 368.6, [.23, .389], threeSeries(numbersCzNo, numbersCzYes, numbersCzMemo));
panelA('a-cz-emojis', 1053, 368.6, [.205, .422], threeSeries(emojisCzNo, emojisCzYes, emojisCzMemo));

panelB('b-objects', 198, [.172, .331], twoSeries(diffObjectsNo, diffObjectsYes));
panelB('b-animals', 478.4, [.169, .328], twoSeries(diffAnimalsNo, diffAnimalsYes));
panelB('b-numbers', 759.5, [.205, .366], twoSeries(diffNumbersNo, diffNumbersYes));
panelB('b-emojis', 1039.7, [.18, .4], twoSeries(diffEmojisNo, diffEmojisYes));

panelC('c-objects-early', 294, 1255, [-9.12, 8.82], [.181, .226], clusterObjectsEarly, clusterTicks5, 0, '1e\u22127');
panelC('c-objects-late', 294, 1473, [-.841, 1.143], [.262, .408], clusterObjectsLate, clusterTicks1, 1, '1e\u22126');
panelC('c-animals-early', 966.5, 1267, [-.877, 1.0], [.194, .229], clusterAnimalsEarly, clusterTicks1, 1, '');
panelC('c-animals-late', 966.5, 1476, [-6.05, 9.01], [.358, .418], clusterAnimalsLate, clusterTicks5, 0, '1e\u22127');
panelC('c-emojis-early', 604, 1693, [-5.86, 6.74], [.181, .235], clusterEmojisEarly, clusterTicks25, 1, '');
panelC('c-emojis-late', 602, 1899, [-5.6, 6.7], [.205, .376], clusterEmojisLate, clusterTicks25, 1, '');

drawTopomap({name: 'topomap-objects-early', cx: 135.5, cy: 1320, rx: 57, ry: 57, grid: topoObjectsEarly, sensors: sensorsObjectsEarly, barX: 196, barY: 1255, barW: 12, barH: 122, barMax: 1.77, barMin: -1.77, barTicks: cbarTicksObjectsEarly, barDecimals: 0});
drawTopomap({name: 'topomap-objects-late', cx: 135.5, cy: 1535, rx: 57, ry: 58, grid: topoObjectsLate, sensors: sensorsObjectsLate, barX: 196, barY: 1473, barW: 12, barH: 120, barMax: 1.56, barMin: -1.56, barTicks: cbarTicksObjectsLate, barDecimals: 0});
drawTopomap({name: 'topomap-animals-early', cx: 807.8, cy: 1331, rx: 57, ry: 57, grid: topoAnimalsEarly, sensors: sensorsAnimalsEarly, barX: 869, barY: 1267, barW: 11.5, barH: 122, barMax: 2.26, barMin: -2.26, barTicks: cbarTicksAnimalsEarly, barDecimals: 0});
drawTopomap({name: 'topomap-animals-late', cx: 807.8, cy: 1540, rx: 57, ry: 57, grid: topoAnimalsLate, sensors: sensorsAnimalsLate, barX: 869, barY: 1476, barW: 11.5, barH: 107, barMax: 1.16, barMin: -.87, barTicks: cbarTicksAnimalsLate, barDecimals: 1});
drawTopomap({name: 'topomap-emojis-early', cx: 445, cy: 1757, rx: 57, ry: 57, grid: topoEmojisEarly, sensors: sensorsEmojisEarly, barX: 506, barY: 1693, barW: 11.5, barH: 122, barMax: 1.45, barMin: -1.45, barTicks: cbarTicksEmojisEarly, barDecimals: 1});
drawTopomap({name: 'topomap-emojis-late', cx: 443, cy: 1965, rx: 57, ry: 57, grid: topoEmojisLate, sensors: sensorsEmojisLate, barX: 505, barY: 1899, barW: 11.5, barH: 123, barMax: 2.07, barMin: -2.03, barTicks: cbarTicksEmojisLate, barDecimals: 0});
</script>
</body>
</html>
